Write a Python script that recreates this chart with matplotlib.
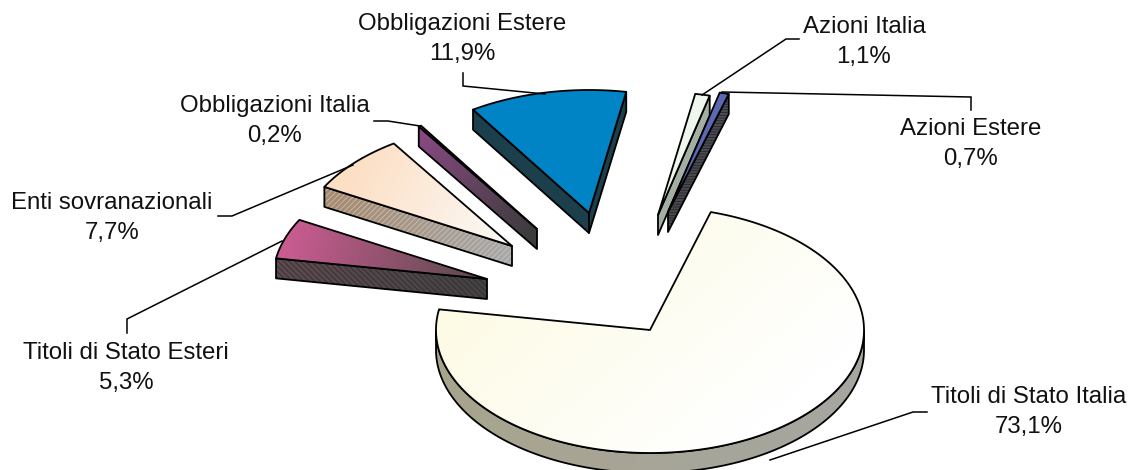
import numpy as np
import matplotlib
matplotlib.use('Agg')
import matplotlib.pyplot as plt
from matplotlib.colors import to_rgb
from matplotlib.patches import Polygon

plt.rcParams['font.family'] = ['Liberation Sans', 'DejaVu Sans']
plt.rcParams['hatch.linewidth'] = 0.5

labels = ['Titoli di Stato Italia', 'Titoli di Stato Esteri', 'Enti sovranazionali',
          'Obbligazioni Italia', 'Obbligazioni Estere', 'Azioni Italia', 'Azioni Estere']
values = [73.1, 5.3, 7.7, 0.2, 11.9, 1.1, 0.7]
value_text = ['73,1%', '5,3%', '7,7%', '0,2%', '11,9%', '1,1%', '0,7%']

# pie look
RX, RY, DEPTH = 214, 123, 20
START = 16.5
tips = [(650, 330), (487, 279), (512, 246), (537, 229), (589, 213), (658, 215), (668, 212)]
top_from = ['#fdfbe6', '#cb5c92', '#fddfc4', '#aa479f', '#0084c6', '#eff6ec', '#5d68b4']
top_to = ['#ffffff', '#57494a', '#fbfaf8', '#4d4450', '#0084c6', '#eff6ec', '#5d68b4']
side_from = ['#a8a48c', '#5e4a50', '#a98a6c', '#8a4a84', '#1c3f4c', '#a4afa3', '#4a4c58']
side_to = ['#a6a6a2', '#444242', '#a8a8a8', '#3c3c3c', '#1c3f4c', '#a4afa3', '#48484c']
side_hatch = ['', '\\\\\\\\\\\\', '//////', '', '', '', '------']
hatch_col = ['#ffffff', '#2a2a2a', '#c8c8c8', '#333333', '#000000', '#ffffff', '#222222']

label_pos = [(1029, 397), (126, 353), (112, 203), (275, 106), (462, 24), (864, 27), (971, 129)]
leaders = [[(770, 460), (913, 412), (927, 412)],
           [(282, 241), (127, 319), (127, 333)],
           [(353, 165), (232, 216), (218, 216)],
           [(420, 126), (388, 121), (374, 121)],
           [(545, 94), (463, 86), (463, 73)],
           [(702, 95), (786, 39), (799, 39)],
           [(722, 92), (971, 97), (971, 110)]]

fig = plt.figure(figsize=(11.32, 4.7), dpi=100)
ax = fig.add_axes([0, 0, 1, 1])
ax.set_xlim(0, 1132)
ax.set_ylim(470, 0)
ax.axis('off')


def grad_fill(pts, c0, c1, p0, p1, z, hatch='', hcol='#ffffff'):
    # linear gradient from p0 to p1, clipped to the polygon
    pts = np.array(pts)
    x0, y0 = pts.min(axis=0) - 1
    x1, y1 = pts.max(axis=0) + 1
    w, h = max(int(x1 - x0), 2), max(int(y1 - y0), 2)
    xx, yy = np.meshgrid(np.linspace(x0, x1, w), np.linspace(y0, y1, h))
    d = np.array(p1, dtype=float) - np.array(p0, dtype=float)
    t = ((xx - p0[0]) * d[0] + (yy - p0[1]) * d[1]) / (d @ d)
    t = np.clip(t, 0, 1)[..., None]
    img = np.array(to_rgb(c0)) * (1 - t) + np.array(to_rgb(c1)) * t
    im = ax.imshow(img, extent=(x0, x1, y1, y0), aspect='auto', zorder=z, interpolation='bilinear')
    clip = Polygon(pts, closed=True, transform=ax.transData, fc='none', ec='none')
    ax.add_patch(clip)
    im.set_clip_path(clip)
    if hatch:
        ax.add_patch(Polygon(pts, closed=True, fc='none', ec=hcol, hatch=hatch, lw=0, zorder=z))
    ax.add_patch(Polygon(pts, closed=True, fc='none', ec='black', lw=1.3, joinstyle='round', zorder=z))


angle = START
for i, v in enumerate(values):
    span = v * 3.6
    a = np.radians(np.linspace(angle, angle + span, max(int(span * 2), 4)))
    angle += span
    tx, ty = tips[i]
    ex = tx + RX * np.sin(a)
    ey = ty - RY * np.cos(a)
    arc = np.column_stack([ex, ey])
    top = np.vstack([[tx, ty], arc])
    far = arc[len(arc) // 2]
    z = 2 + i * 3

    # only the walls that face the viewer
    if np.sin(a[0]) < 0:
        p = arc[0]
        wall = [(tx, ty), tuple(p), (p[0], p[1] + DEPTH), (tx, ty + DEPTH)]
        grad_fill(wall, side_from[i], side_to[i], far, (tx, ty), z, side_hatch[i], hatch_col[i])
    if np.sin(a[-1]) > 0:
        p = arc[-1]
        wall = [(tx, ty), tuple(p), (p[0], p[1] + DEPTH), (tx, ty + DEPTH)]
        grad_fill(wall, side_from[i], side_to[i], far, (tx, ty), z, side_hatch[i], hatch_col[i])
    front = np.cos(a) < 0
    if front.sum() > 1:
        rim = np.vstack([arc[front], (arc[front] + [0, DEPTH])[::-1]])
        grad_fill(rim, side_from[i], side_to[i], (440, 340), (865, 470), z + 1)

    if i == 0:
        grad_fill(top, top_from[i], top_to[i], (560, 230), (740, 440), z + 2)
    else:
        grad_fill(top, top_from[i], top_to[i], far, (tx, ty), z + 2)

for i, lab in enumerate(labels):
    xs, ys = zip(*leaders[i])
    ax.plot(xs, ys, color='black', lw=1.1, zorder=40, solid_joinstyle='miter')
    x, y = label_pos[i]
    ax.text(x, y, lab, ha='center', va='center', fontsize=17.3, color='#111111', zorder=41)
    ax.text(x, y + 30, value_text[i], ha='center', va='center', fontsize=17.3, color='#111111', zorder=41)

ax.set_xlim(0, 1132)
ax.set_ylim(470, 0)
fig.savefig('out.png', dpi=100)
plt.close()
